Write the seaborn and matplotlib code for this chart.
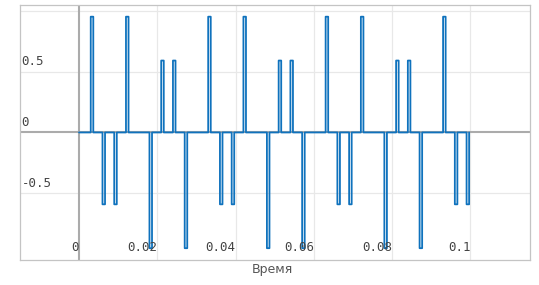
import numpy as np
import matplotlib
matplotlib.use("Agg")
import matplotlib.pyplot as plt
import matplotlib.transforms as mtransforms
import pandas as pd
import seaborn as sns

# pulse start times (s) and amplitudes
pulse_t = [0.003, 0.006, 0.009, 0.012, 0.018, 0.021, 0.024, 0.027, 0.033,
           0.036, 0.039, 0.042, 0.048, 0.051, 0.054, 0.057, 0.063, 0.066,
           0.069, 0.072, 0.078, 0.081, 0.084, 0.087, 0.093, 0.096, 0.099]
pulse_a = [0.95, -0.59, -0.59, 0.95, -0.95, 0.59, 0.59, -0.95, 0.95,
           -0.59, -0.59, 0.95, -0.95, 0.59, 0.59, -0.95, 0.95, -0.59,
           -0.59, 0.95, -0.95, 0.59, 0.59, -0.95, 0.95, -0.59, -0.59]
pulse_w = 0.00065

xticks = [0, 0.02, 0.04, 0.06, 0.08, 0.1]
xtick_labels = ["0", "0.02", "0.04", "0.06", "0.08", "0.1"]
yticks = [0.5, 0, -0.5]
ytick_labels = ["0.5", "0", "-0.5"]

t = [0.0]
v = [0.0]
for ts, a in zip(pulse_t, pulse_a):
    t += [ts, ts + pulse_w]
    v += [a, 0.0]
df = pd.DataFrame({"t": t, "v": v})

sns.set_style("white")
fig = plt.figure(figsize=(5.39, 2.85), dpi=100)
ax = fig.add_axes([20 / 539, 25 / 285, 510 / 539, 255 / 285])

grid_c = "#e8e8e8"
for x in [0.02, 0.04, 0.06, 0.08, 0.1]:
    ax.axvline(x, color=grid_c, lw=0.9, zorder=0)
for y in [1.0, 0.5, -0.5]:
    ax.axhline(y, color=grid_c, lw=0.9, zorder=0)
ax.axhline(0, color="#ababab", lw=1.5, zorder=1)
ax.axvline(0, color="#ababab", lw=1.5, zorder=1)

sns.lineplot(data=df, x="t", y="v", ax=ax, drawstyle="steps-post",
             color="#0f72bd", lw=1.3, estimator=None, sort=False, zorder=3)
ax.lines[-1].set_snap(False)

ax.set_xlim(-0.01507, 0.1152)
ax.set_ylim(-1.047, 1.046)
ax.set_xticks([])
ax.set_yticks([])
ax.set_xlabel("")
ax.set_ylabel("")
for s in ax.spines.values():
    s.set_color("#c4c4c4")
    s.set_linewidth(0.9)

mono = "DejaVu Sans Mono"
tc = "#444444"
xtr = mtransforms.blended_transform_factory(ax.transData, ax.transAxes)
for x, lab in zip(xticks, xtick_labels):
    ax.text(x, 0.025, lab, transform=xtr, ha="right", va="bottom",
            fontsize=9, family=mono, color=tc, zorder=4)
ytr = mtransforms.blended_transform_factory(ax.transAxes, ax.transData)
for y, lab in zip(yticks, ytick_labels):
    ax.text(0.003, y + 0.025, lab, transform=ytr, ha="left", va="bottom",
            fontsize=9, family=mono, color=tc, zorder=4)

fig.text(272 / 539, 1 - 270 / 285, "Время", ha="center", va="center",
         fontsize=9, color="#555555")

fig.savefig("out.png", dpi=100)
